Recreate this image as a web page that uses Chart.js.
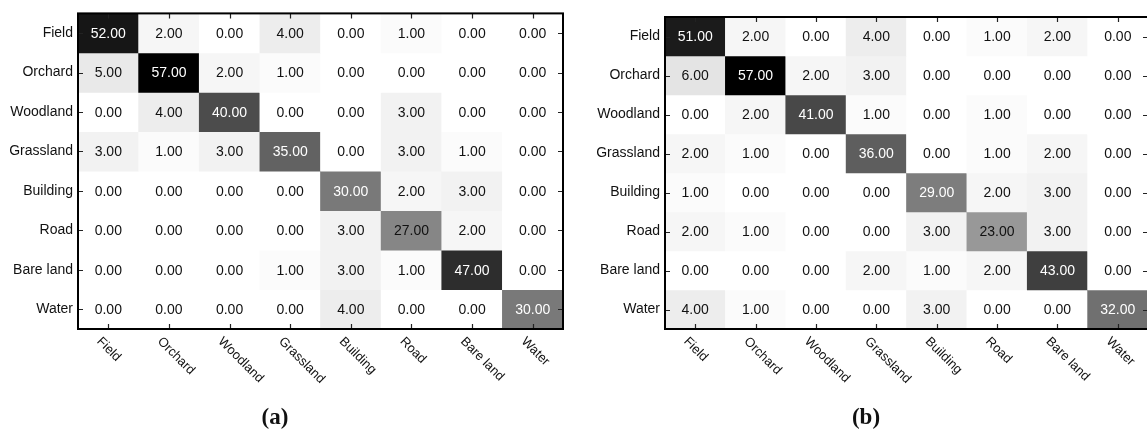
<!DOCTYPE html>
<html>
<head>
<meta charset="utf-8">
<script src="https://cdn.jsdelivr.net/npm/chart.js@4.4.1/dist/chart.umd.min.js"></script>
<style>
  html, body { margin: 0; padding: 0; background: #fff; overflow: hidden; }
  body { width: 1147px; height: 433px; position: relative; }
  .panel { position: absolute; top: 0; height: 433px; }
  .cap { position: absolute; top: 404px; line-height: 23px; font: bold 23px "Liberation Serif", "DejaVu Serif", serif; transform: translateX(-50%); color: #111; }
</style>
</head>
<body>
<div class="panel" style="left:0;width:590px"><canvas id="chartA"></canvas></div>
<div class="panel" style="left:590px;width:560px"><canvas id="chartB"></canvas></div>
<div class="cap" style="left:275px">(a)</div>
<div class="cap" style="left:866px">(b)</div>
<script>
// class names, used for both rows (reference) and columns (predicted)
const classes = ['Field', 'Orchard', 'Woodland', 'Grassland', 'Building', 'Road', 'Bare land', 'Water'];

// confusion matrix (a)
const countsA = [
    [52, 2, 0, 4, 0, 1, 0, 0],
    [5, 57, 2, 1, 0, 0, 0, 0],
    [0, 4, 40, 0, 0, 3, 0, 0],
    [3, 1, 3, 35, 0, 3, 1, 0],
    [0, 0, 0, 0, 30, 2, 3, 0],
    [0, 0, 0, 0, 3, 27, 2, 0],
    [0, 0, 0, 1, 3, 1, 47, 0],
    [0, 0, 0, 0, 4, 0, 0, 30]
];

// confusion matrix (b)
const countsB = [
    [51, 2, 0, 4, 0, 1, 2, 0],
    [6, 57, 2, 3, 0, 0, 0, 0],
    [0, 2, 41, 1, 0, 1, 0, 0],
    [2, 1, 0, 36, 0, 1, 2, 0],
    [1, 0, 0, 0, 29, 2, 3, 0],
    [2, 1, 0, 0, 3, 23, 3, 0],
    [0, 0, 0, 2, 1, 2, 43, 0],
    [4, 1, 0, 0, 3, 0, 0, 32]
];

const FONT = '"Liberation Sans", Arial, sans-serif';

function grayLevel(v, vmax) {
    return Math.round(255 * (1 - v / vmax));
}

// frame, inward ticks, cell values and rotated column labels
const matrixPlugin = {
    id: 'matrixPlugin',
    afterDatasetsDraw(chart) {
        const { ctx, chartArea: a, scales: { x, y } } = chart;
        ctx.save();
        ctx.font = '14px ' + FONT;
        ctx.textAlign = 'center';
        ctx.textBaseline = 'middle';
        chart.data.datasets.forEach((ds, i) => {
            const meta = chart.getDatasetMeta(i);
            meta.data.forEach((bar, j) => {
                const v = ds.counts[j];
                const g = grayLevel(v, ds.vmax);
                ctx.fillStyle = g < 128 ? '#fff' : '#111';
                ctx.fillText(v.toFixed(2), bar.x, (bar.y + bar.base) / 2 + 1);
            });
        });

        // ticks
        ctx.strokeStyle = '#222';
        ctx.lineWidth = 1.2;
        const tl = 5;
        ctx.beginPath();
        classes.forEach((c, i) => {
            const xp = Math.round(x.getPixelForValue(i)) + 0.5;
            ctx.moveTo(xp, a.top); ctx.lineTo(xp, a.top + tl);
            ctx.moveTo(xp, a.bottom); ctx.lineTo(xp, a.bottom - tl);
            const yp = Math.round(y.getPixelForTick(i)) + 0.5;
            ctx.moveTo(a.left, yp); ctx.lineTo(a.left + tl, yp);
            ctx.moveTo(a.right, yp); ctx.lineTo(a.right - tl, yp);
        });
        ctx.stroke();

        // frame
        ctx.strokeStyle = '#000';
        ctx.lineWidth = 2;
        ctx.strokeRect(a.left, a.top, a.right - a.left, a.bottom - a.top);

        // x labels, rotated clockwise
        ctx.fillStyle = '#111';
        ctx.font = '13px ' + FONT;
        ctx.textAlign = 'left';
        ctx.textBaseline = 'alphabetic';
        classes.forEach((c, i) => {
            const xp = x.getPixelForValue(i);
            ctx.save();
            ctx.translate(xp - 12, a.bottom + 13);
            ctx.rotate(Math.PI / 4);
            ctx.fillText(c, 0, 0);
            ctx.restore();
        });
        ctx.restore();
    }
};

function drawMatrix(canvasId, counts, box) {
    const vmax = Math.max(...counts.map(r => Math.max(...r)));
    const datasets = counts.map((row, r) => ({
        data: row.map(() => [r, r + 1]),
        counts: row,
        vmax: vmax,
        backgroundColor: row.map(v => {
            const g = grayLevel(v, vmax);
            return `rgb(${g}, ${g}, ${g})`;
        }),
        borderWidth: 0,
        barPercentage: 1,
        categoryPercentage: 1
    }));

    new Chart(document.getElementById(canvasId), {
        type: 'bar',
        data: { labels: classes, datasets: datasets },
        options: {
            responsive: true,
            maintainAspectRatio: false,
            animation: false,
            layout: { padding: { left: 0, top: box.top, right: box.right, bottom: 0 } },
            plugins: { legend: { display: false }, tooltip: { enabled: false } },
            scales: {
                x: {
                    stacked: true,
                    grid: { display: false },
                    border: { display: false },
                    ticks: { display: false },
                    afterFit: scale => { scale.height = box.xHeight; }
                },
                y: {
                    min: 0,
                    max: 8,
                    reverse: true,
                    grid: { display: false, drawTicks: false },
                    border: { display: false },
                    afterBuildTicks: scale => {
                        scale.ticks = classes.map((c, i) => ({ value: i + 0.5 }));
                    },
                    ticks: {
                        autoSkip: false,
                        padding: 5,
                        color: '#111',
                        font: { family: FONT, size: 14 },
                        callback: (value, index) => classes[index]
                    },
                    afterFit: scale => { scale.width = box.yWidth; }
                }
            }
        },
        plugins: [matrixPlugin]
    });
}

drawMatrix('chartA', countsA, { top: 13, right: 27, yWidth: 78, xHeight: 104 });
drawMatrix('chartB', countsB, { top: 17, right: 2, yWidth: 75, xHeight: 104 });
</script>
</body>
</html>
